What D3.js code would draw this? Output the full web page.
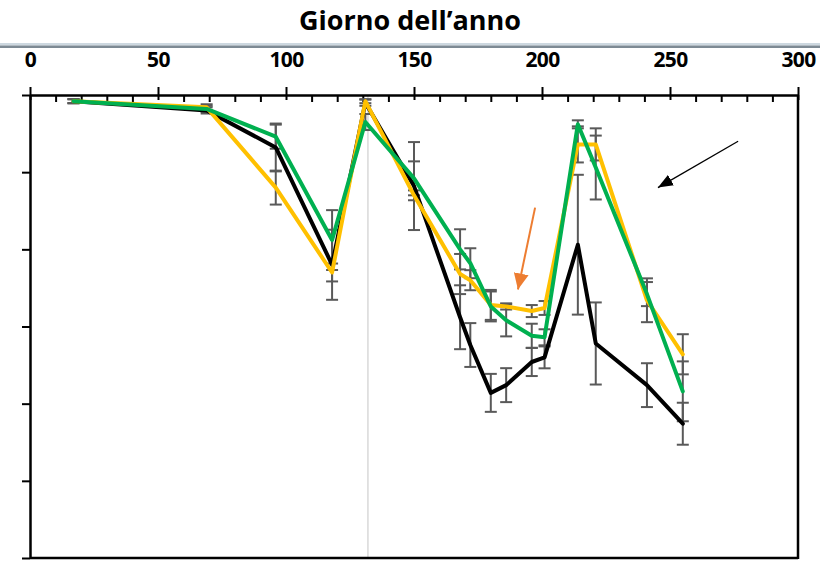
<!DOCTYPE html>
<html>
<head>
<meta charset="utf-8">
<script src="https://cdn.jsdelivr.net/npm/d3@7"></script>
<style>
  body { margin: 0; background: #fff; }
  svg { display: block; font-family: "Open Sans", Lato, sans-serif; }
</style>
</head>
<body>
<svg id="chart" width="820" height="570"></svg>
<script>
// Giorni di campionamento
const giorni = [17, 69, 96, 118, 131, 150, 168, 172, 180, 186, 196, 201, 214, 221, 241, 255];

// serie ed errori
const nero = [-0.04, -0.10, -0.34, -1.10, -0.05, -0.59, -1.44, -1.62, -1.93, -1.88, -1.73, -1.70, -0.97, -1.61, -1.88, -2.13];
const neroErr = [0.013, 0.02, 0.155, 0.227, 0.02, 0.285, 0.207, 0.142, 0.123, 0.11, 0.091, 0.071, 0.453, 0.266, 0.142, 0.136];

const giallo = [-0.04, -0.08, -0.60, -1.15, -0.04, -0.65, -1.16, -1.20, -1.36, -1.37, -1.40, -1.38, -0.32, -0.32, -1.33, -1.68];
const gialloErr = [0.013, 0.02, 0.11, 0.058, 0.013, 0.032, 0.13, 0.065, 0.097, 0.02, 0.039, 0.045, 0.117, 0.104, 0.142, 0.13];

const verde = [-0.04, -0.09, -0.27, -0.94, -0.175, -0.54, -1.00, -1.09, -1.37, -1.46, -1.56, -1.57, -0.19, -0.47, -1.29, -1.92];
const verdeErr = [0.013, 0.02, 0.078, 0.194, 0.052, 0.11, 0.13, 0.097, 0.097, 0.104, 0.078, 0.052, 0.026, 0.207, 0.078, 0.194];

const xMajor = [0, 50, 100, 150, 200, 250, 300];
const xMinor = d3.range(10, 300, 10).filter((d) => d % 50 !== 0);
const yTicks = [0, -0.5, -1, -1.5, -2, -2.5, -3];
const giornoRif = 132;

// frecce di annotazione [giorno, valore]
const frecciaArancio = [[197.3, -0.73], [190.6, -1.26]];
const frecciaNera = [[276.6, -0.3], [245.3, -0.6]];

const serie = [
  { nome: "nero", valori: nero, err: neroErr, colore: "#000000" },
  { nome: "giallo", valori: giallo, err: gialloErr, colore: "#FFC000" },
  { nome: "verde", valori: verde, err: verdeErr, colore: "#00B050" },
];

const svg = d3.select("#chart");
const x = d3.scaleLinear().domain([0, 300]).range([30, 798]);
const y = d3.scaleLinear().domain([0, -3]).range([95, 558]);

// banda grigia in alto (diapositiva)
svg.append("rect").attr("x", 0).attr("y", 43).attr("width", 820).attr("height", 2.5).attr("fill", "#cdd8e0");
svg.append("rect").attr("x", 0).attr("y", 45.5).attr("width", 820).attr("height", 2.5).attr("fill", "#7d8a94");

// titolo
svg.append("text")
  .attr("x", 410)
  .attr("y", 30)
  .attr("text-anchor", "middle")
  .attr("font-size", 27)
  .attr("font-weight", "bold")
  .attr("letter-spacing", 0)
  .text("Giorno dell\u2019anno");

// linea verticale di riferimento
svg.append("line")
  .attr("x1", x(giornoRif)).attr("x2", x(giornoRif))
  .attr("y1", y(0)).attr("y2", y(-3))
  .attr("stroke", "#d9d9d9").attr("stroke-width", 1.5);

// assi ----------------
const asseSopra = svg.append("g").attr("transform", `translate(0,${y(0)})`);
asseSopra.call(d3.axisTop(x).tickValues(xMajor).tickSize(8).tickPadding(20).tickSizeOuter(0));
asseSopra.select(".domain").attr("stroke-width", 2.5);
asseSopra.selectAll(".tick line").attr("stroke-width", 2);
asseSopra.selectAll("text")
  .attr("font-size", 21)
  .attr("font-weight", "bold")
  .attr("font-family", "'Open Sans', sans-serif")
  .attr("letter-spacing", -0.6)
  .attr("fill", "#000");

const asseSotto = svg.append("g").attr("transform", `translate(0,${y(0)})`);
asseSotto.call(d3.axisBottom(x).tickValues(xMajor).tickSize(5).tickFormat(""));
asseSotto.append("g").call(d3.axisBottom(x).tickValues(xMinor).tickSize(7).tickFormat(""));
asseSotto.selectAll(".domain").remove();
asseSotto.selectAll(".tick line").attr("stroke-width", 2);

const asseSinistro = svg.append("g").attr("transform", `translate(${x(0)},0)`);
asseSinistro.call(d3.axisLeft(y).tickValues(yTicks).tickSize(8).tickSizeOuter(0).tickFormat(""));
asseSinistro.select(".domain").attr("stroke-width", 2.5);
asseSinistro.selectAll(".tick line").attr("stroke-width", 2);

// bordo destro e inferiore
svg.append("line")
  .attr("x1", x(300)).attr("x2", x(300))
  .attr("y1", y(0)).attr("y2", y(-3) + 1)
  .attr("stroke", "#000").attr("stroke-width", 2.5);
svg.append("line")
  .attr("x1", x(0)).attr("x2", x(300))
  .attr("y1", y(-3)).attr("y2", y(-3))
  .attr("stroke", "#000").attr("stroke-width", 2.5);

// barre di errore
const barre = svg.append("g").attr("stroke", "#595959").attr("stroke-width", 2);
serie.forEach((s) => {
  const dati = giorni.map((g, i) => ({ g, v: s.valori[i], e: s.err[i] }));
  const b = barre.append("g").selectAll("g").data(dati).enter().append("g");
  b.append("line")
    .attr("x1", (d) => x(d.g)).attr("x2", (d) => x(d.g))
    .attr("y1", (d) => y(d.v + d.e)).attr("y2", (d) => y(d.v - d.e));
  b.append("line")
    .attr("x1", (d) => x(d.g) - 6).attr("x2", (d) => x(d.g) + 6)
    .attr("y1", (d) => y(d.v + d.e)).attr("y2", (d) => y(d.v + d.e));
  b.append("line")
    .attr("x1", (d) => x(d.g) - 6).attr("x2", (d) => x(d.g) + 6)
    .attr("y1", (d) => y(d.v - d.e)).attr("y2", (d) => y(d.v - d.e));
});

// linee
const linea = d3.line().x((d) => x(d[0])).y((d) => y(d[1]));
serie.forEach((s) => {
  svg.append("path")
    .attr("class", "serie-" + s.nome)
    .attr("d", linea(giorni.map((g, i) => [g, s.valori[i]])))
    .attr("fill", "none")
    .attr("stroke", s.colore)
    .attr("stroke-width", 4)
    .attr("stroke-linejoin", "round")
    .attr("stroke-linecap", "round");
});

// frecce
const defs = svg.append("defs");
const marker = (id, colore, w, l) => {
  defs.append("marker")
    .attr("id", id)
    .attr("markerUnits", "userSpaceOnUse")
    .attr("viewBox", `0 0 ${l} ${w}`)
    .attr("refX", l).attr("refY", w / 2)
    .attr("markerWidth", l).attr("markerHeight", w)
    .attr("orient", "auto")
    .append("path")
    .attr("d", `M0,0L${l},${w / 2}L0,${w}Z`)
    .attr("fill", colore);
};
marker("testa-arancio", "#ED7D31", 15, 16);
marker("testa-nera", "#000", 12, 15);

svg.append("line")
  .attr("x1", x(frecciaArancio[0][0])).attr("y1", y(frecciaArancio[0][1]))
  .attr("x2", x(frecciaArancio[1][0])).attr("y2", y(frecciaArancio[1][1]))
  .attr("stroke", "#ED7D31").attr("stroke-width", 2)
  .attr("marker-end", "url(#testa-arancio)");
svg.append("line")
  .attr("x1", x(frecciaNera[0][0])).attr("y1", y(frecciaNera[0][1]))
  .attr("x2", x(frecciaNera[1][0])).attr("y2", y(frecciaNera[1][1]))
  .attr("stroke", "#000").attr("stroke-width", 1.3)
  .attr("marker-end", "url(#testa-nera)");
</script>
</body>
</html>
